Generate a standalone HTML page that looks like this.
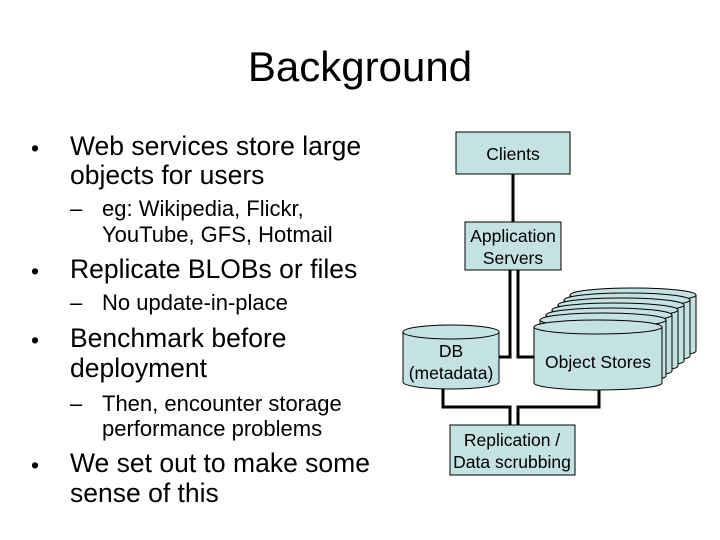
<!DOCTYPE html>
<html><head><style>
body{margin:0;width:720px;height:540px;background:#fff;position:relative;overflow:hidden;font-family:"Liberation Sans",sans-serif;color:#000}
.t{position:absolute;white-space:nowrap}
.b{font-size:26.5px;line-height:27px}
.s{font-size:22px;line-height:22px}
.d{font-size:23px;margin-top:2px}
</style></head><body>
<div class="t" style="left:0;width:720px;text-align:center;top:46px;font-size:42px;line-height:42px">Background</div>
<div class="t b d" style="left:31px;top:133px">•</div>
<div class="t b" style="left:70px;top:133px">Web services store large</div>
<div class="t b" style="left:70px;top:162px">objects for users</div>
<div class="t s" style="left:70px;top:198px">–</div>
<div class="t s" style="left:102px;top:198px">eg: Wikipedia, Flickr,</div>
<div class="t s" style="left:102px;top:224px">YouTube, GFS, Hotmail</div>
<div class="t b d" style="left:31px;top:256px">•</div>
<div class="t b" style="left:70px;top:256px">Replicate BLOBs or files</div>
<div class="t s" style="left:70px;top:292px">–</div>
<div class="t s" style="left:102px;top:292px">No update-in-place</div>
<div class="t b d" style="left:31px;top:325px">•</div>
<div class="t b" style="left:70px;top:325px">Benchmark before</div>
<div class="t b" style="left:70px;top:355px">deployment</div>
<div class="t s" style="left:70px;top:393px">–</div>
<div class="t s" style="left:102px;top:393px">Then, encounter storage</div>
<div class="t s" style="left:102px;top:418px">performance problems</div>
<div class="t b d" style="left:31px;top:450px">•</div>
<div class="t b" style="left:70px;top:450px">We set out to make some</div>
<div class="t b" style="left:70px;top:480px">sense of this</div>

<svg width="720" height="540" style="position:absolute;left:0;top:0" font-family="Liberation Sans, sans-serif" font-size="17.5">
<g stroke="#000" stroke-width="3" fill="none">
<line x1="513" y1="174" x2="513" y2="222"/>
<polyline points="510,270 510,357 499,357"/>
<polyline points="518,270 518,357 536,357"/>
<polyline points="443,388 443,407 510,407 510,425"/>
<polyline points="599,390 599,407 518,407 518,425"/>
</g>
<g stroke="#000" stroke-width="1" fill="#c5e2e3">
<rect x="456" y="132" width="114" height="42"/>
<rect x="465" y="222" width="96" height="48"/>
<rect x="450" y="425" width="125" height="50"/>
</g>
<g stroke="#000" stroke-width="1" fill="#c5e2e3">
<path d="M403,332 v50 a48,7 0 0 0 96,0 v-50"/>
<ellipse cx="451" cy="332" rx="48" ry="7"/>
<g id="c">
<path d="M570,295 v56 a63,7 0 0 0 126,0 v-56"/>
<ellipse cx="633" cy="295" rx="63" ry="7"/>
</g>
<use href="#c" x="-6" y="5"/>
<use href="#c" x="-12" y="10"/>
<use href="#c" x="-18" y="15"/>
<use href="#c" x="-24" y="20"/>
<use href="#c" x="-30" y="25"/>
<path d="M534,327 v56 a64,7 0 0 0 128,0 v-56"/>
<ellipse cx="598" cy="327" rx="64" ry="7"/>
</g>
<g text-anchor="middle" fill="#000">
<text x="513" y="160">Clients</text>
<text x="513" y="242">Application</text>
<text x="513" y="264">Servers</text>
<text x="451" y="357">DB</text>
<text x="451" y="379">(metadata)</text>
<text x="598" y="368">Object Stores</text>
<text x="512" y="446">Replication /</text>
<text x="512" y="468">Data scrubbing</text>
</g>
</svg>
</body></html>
